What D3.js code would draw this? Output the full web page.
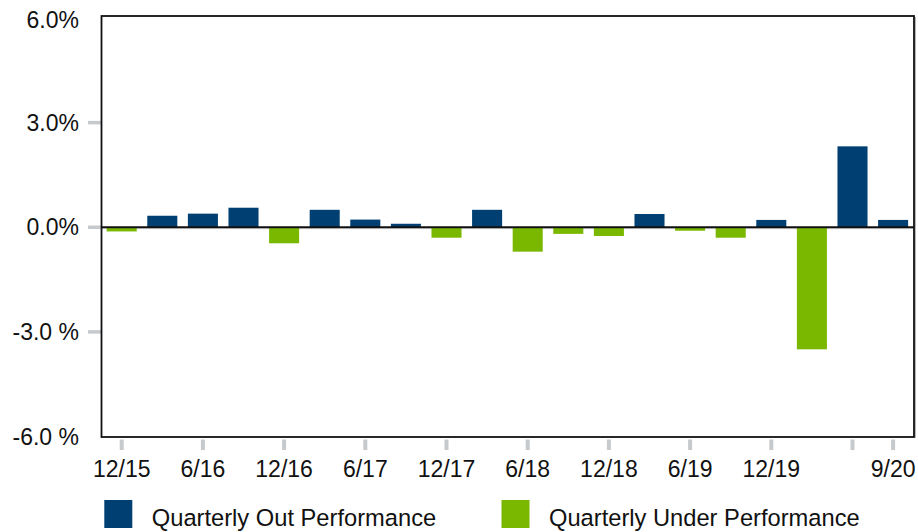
<!DOCTYPE html>
<html>
<head>
<meta charset="utf-8">
<script src="https://cdn.jsdelivr.net/npm/d3@7"></script>
<style>
  html, body { margin: 0; padding: 0; background: #fff; }
  svg { display: block; font-family: "Liberation Sans", Arial, sans-serif; }
</style>
</head>
<body>
<svg id="chart" width="918" height="532"></svg>
<script>
// ---- data ----
const quarters = ["12/15","3/16","6/16","9/16","12/16","3/17","6/17","9/17","12/17","3/18",
                  "6/18","9/18","12/18","3/19","6/19","9/19","12/19","3/20","6/20","9/20"];
const relativePerformance = [-0.12, 0.33, 0.39, 0.56, -0.46, 0.50, 0.22, 0.10, -0.30, 0.50,
                             -0.70, -0.19, -0.25, 0.38, -0.10, -0.30, 0.21, -3.50, 2.32, 0.21];
const xTickQuarters = ["12/15","6/16","12/16","6/17","12/17","6/18","12/18","6/19","12/19","6/20","9/20"];
const xTickLabels   = ["12/15","6/16","12/16","6/17","12/17","6/18","12/18","6/19","12/19","","9/20"];
const yTickValues = [6, 3, 0, -3, -6];
const yTickLabels = ["6.0%", "3.0%", "0.0%", "-3.0 %", "-6.0 %"];
const yTickMarks = [3, 0, -3];
const seriesNames = ["Quarterly Out Performance", "Quarterly Under Performance"];
const seriesColors = ["#003f72", "#7ab800"];

// ---- layout ----
const svg = d3.select("#chart");
const frame = { left: 101.5, right: 914, top: 16, bottom: 437 };
const fontSize = 23;

const x = d3.scaleBand()
  .domain(quarters)
  .range([101.4, 913.4])
  .paddingInner(0.26)
  .paddingOuter(0.13);

const y = d3.scaleLinear().domain([-6, 6]).range([436.5, 18]);

// y tick marks (grey)
svg.append("g").selectAll("line").data(yTickMarks).join("line")
  .attr("x1", 88).attr("x2", frame.left)
  .attr("y1", d => y(d)).attr("y2", d => y(d))
  .attr("stroke", "#c6cacd").attr("stroke-width", 3.5);

// y labels
svg.append("g").selectAll("text").data(yTickValues).join("text")
  .attr("x", 79)
  .attr("y", (d) => d === 6 ? y(d) + 2 : y(d))
  .attr("dy", "0.35em")
  .attr("text-anchor", "end")
  .attr("font-size", fontSize)
  .attr("fill", "#111")
  .text((d, i) => yTickLabels[i]);

// x axis ticks + labels via d3 axis
const xAxis = d3.axisBottom(x)
  .tickValues(xTickQuarters)
  .tickSize(0)
  .tickFormat(d => xTickLabels[xTickQuarters.indexOf(d)]);
const gx = svg.append("g").attr("transform", `translate(0,${frame.bottom})`).call(xAxis);
gx.select(".domain").remove();
gx.selectAll(".tick text")
  .attr("font-size", fontSize)
  .attr("font-family", '"Liberation Sans", Arial, sans-serif')
  .attr("fill", "#111")
  .attr("y", 24)
  .attr("dy", "0.71em");
gx.selectAll(".tick").append("line")
  .attr("x1", 0).attr("x2", 0)
  .attr("y1", 2.5).attr("y2", 13)
  .attr("stroke", "#c6cacd").attr("stroke-width", 4);

// zero shadow line (under bars)
svg.append("line")
  .attr("x1", frame.left).attr("x2", frame.right)
  .attr("y1", y(0) + 1.4).attr("y2", y(0) + 1.4)
  .attr("stroke", "#d6d6d6").attr("stroke-width", 1);

// bars
svg.append("g").selectAll("rect").data(relativePerformance).join("rect")
  .attr("x", (d, i) => x(quarters[i]))
  .attr("width", x.bandwidth())
  .attr("y", d => d >= 0 ? y(d) : y(0))
  .attr("height", d => Math.abs(y(d) - y(0)))
  .attr("fill", d => d >= 0 ? seriesColors[0] : seriesColors[1]);

// zero line
svg.append("line")
  .attr("x1", frame.left).attr("x2", frame.right)
  .attr("y1", y(0)).attr("y2", y(0))
  .attr("stroke", "#111").attr("stroke-width", 1.8);

// frame
svg.append("line").attr("x1", frame.right + 1.2).attr("x2", frame.right + 1.2)
  .attr("y1", frame.top + 1).attr("y2", frame.bottom + 1)
  .attr("stroke", "#999").attr("stroke-width", 1);
svg.append("rect")
  .attr("x", frame.left).attr("y", frame.top)
  .attr("width", frame.right - frame.left)
  .attr("height", frame.bottom - frame.top)
  .attr("fill", "none").attr("stroke", "#111").attr("stroke-width", 1.8);

// legend
const legendX = [104.3, 501.5];
const lg = svg.append("g").selectAll("g").data(seriesNames).join("g")
  .attr("transform", (d, i) => `translate(${legendX[i]},500)`);
lg.append("rect").attr("width", 28).attr("height", 28)
  .attr("fill", (d, i) => seriesColors[i]);
lg.append("text").attr("x", 47.5).attr("y", 25.5)
  .attr("font-size", 23.7).attr("fill", "#111")
  .text(d => d);
</script>
</body>
</html>
